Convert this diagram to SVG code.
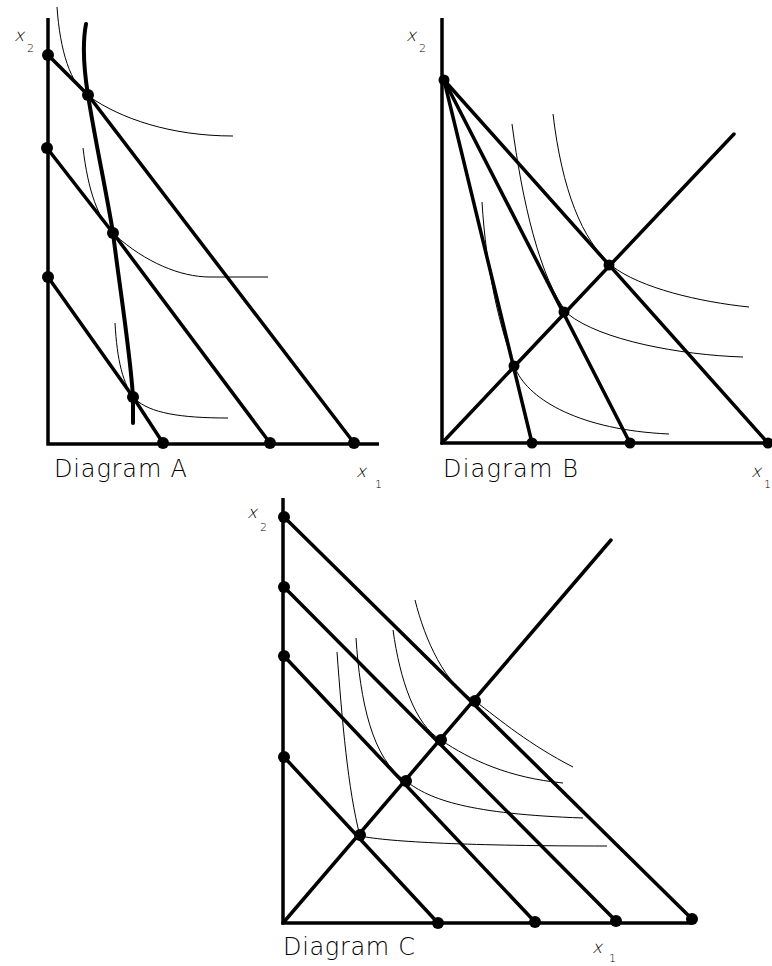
<svg xmlns="http://www.w3.org/2000/svg" width="772" height="966" viewBox="0 0 772 966">
<style>
.ax{stroke:#000;stroke-width:3.5;fill:none;stroke-linecap:butt}
.bl{stroke:#000;stroke-width:3.5;fill:none;stroke-linecap:round}
.ic{stroke:#000;stroke-width:1;fill:none}
.dot{fill:#000}
.ttl{font-family:"DejaVu Sans","Liberation Sans",sans-serif;font-weight:200;font-size:24px;fill:#000}
.var{font-family:"DejaVu Sans","Liberation Sans",sans-serif;font-weight:200;font-size:17px;fill:#000}
.sub{font-family:"DejaVu Sans","Liberation Sans",sans-serif;font-weight:200;font-size:11px;fill:#000}
</style>
<rect width="772" height="966" fill="#fff"/>

<g id="diagramA">
  <g id="A-axes">
    <path class="ax" d="M48,18 V444 H379"/>
  </g>
  <g id="A-connectors">
    <path class="bl" d="M48,55 L88,95 L354,443"/>
    <path class="bl" d="M47,148 L113,233 L270,443"/>
    <path class="bl" d="M48,277 L133,397 L163,443"/>
    <path class="bl" style="stroke-width:4" d="M86,24 C82,45 84,70 88,95 C95,140 106,190 113,233 C120,290 130,350 133,397 L133,423"/>
    <path class="ic" d="M57,7 C60,50 70,85 90,97 C120,118 170,136 233,136"/>
    <path class="ic" d="M83,148 C88,190 98,220 115,235 C145,262 180,277 210,277 L268,277"/>
    <path class="ic" d="M115,323 C117,360 123,385 135,399 C150,413 180,418 228,418"/>
  </g>
  <g id="A-points">
    <circle class="dot" cx="48" cy="55" r="6"/>
    <circle class="dot" cx="47" cy="148" r="6"/>
    <circle class="dot" cx="48" cy="277" r="6"/>
    <circle class="dot" cx="88" cy="95" r="6"/>
    <circle class="dot" cx="113" cy="233" r="6"/>
    <circle class="dot" cx="133" cy="397" r="6"/>
    <circle class="dot" cx="163" cy="443" r="6"/>
    <circle class="dot" cx="270" cy="443" r="6"/>
    <circle class="dot" cx="354" cy="443" r="6"/>
  </g>
  <g id="A-labels">
    <text class="var" transform="translate(14,41) skewX(-14)">x</text>
    <text class="sub" x="27" y="52">2</text>
    <text class="var" transform="translate(356,477) skewX(-14)">x</text>
    <text class="sub" x="375" y="488">1</text>
    <text class="ttl" x="54" y="477" textLength="133" lengthAdjust="spacing">Diagram A</text>
  </g>
</g>

<g id="diagramB">
  <g id="B-axes">
    <path class="ax" d="M442,18 V443 H772"/>
  </g>
  <g id="B-connectors">
    <path class="bl" d="M442,443 L734,134"/>
    <path class="bl" d="M444,80 L532,443"/>
    <path class="bl" d="M444,80 L630,443"/>
    <path class="bl" d="M444,80 L768,443"/>
    <path class="ic" d="M482,202 C486,270 500,330 516,370 C530,400 580,430 669,434"/>
    <path class="ic" d="M512,124 C522,200 540,280 568,314 C600,340 680,355 743,357"/>
    <path class="ic" d="M553,114 C562,190 582,240 612,266 C640,288 700,302 749,307"/>
  </g>
  <g id="B-points">
    <circle class="dot" cx="444" cy="80" r="5.5"/>
    <circle class="dot" cx="514" cy="366" r="5.5"/>
    <circle class="dot" cx="564" cy="312" r="5.5"/>
    <circle class="dot" cx="609" cy="265" r="5.5"/>
    <circle class="dot" cx="532" cy="443" r="5.5"/>
    <circle class="dot" cx="630" cy="443" r="5.5"/>
    <circle class="dot" cx="768" cy="443" r="5.5"/>
  </g>
  <g id="B-labels">
    <text class="var" transform="translate(406,41) skewX(-14)">x</text>
    <text class="sub" x="419" y="52">2</text>
    <text class="var" transform="translate(751,477) skewX(-14)">x</text>
    <text class="sub" x="764" y="488">1</text>
    <text class="ttl" x="443" y="477" textLength="135" lengthAdjust="spacing">Diagram B</text>
  </g>
</g>

<g id="diagramC">
  <g id="C-axes">
    <path class="ax" d="M283,498 V923 H692"/>
  </g>
  <g id="C-connectors">
    <path class="bl" d="M283,923 L611,540"/>
    <path class="bl" d="M284,517 L692,919"/>
    <path class="bl" d="M284,587 L616,921"/>
    <path class="bl" d="M284,656 L535,922"/>
    <path class="bl" d="M284,757 L438,923"/>
    <path class="ic" d="M415,600 C425,640 445,685 475,701 C500,720 530,745 573,767"/>
    <path class="ic" d="M393,630 C400,680 415,725 441,740 C470,760 510,778 563,783"/>
    <path class="ic" d="M356,638 C360,700 372,760 406,781 C430,800 470,814 583,818"/>
    <path class="ic" d="M337,652 C342,720 348,790 360,836 C390,842 470,846 607,846"/>
  </g>
  <g id="C-points">
    <circle class="dot" cx="284" cy="517" r="6"/>
    <circle class="dot" cx="284" cy="587" r="6"/>
    <circle class="dot" cx="284" cy="656" r="6"/>
    <circle class="dot" cx="284" cy="757" r="6"/>
    <circle class="dot" cx="475" cy="701" r="6"/>
    <circle class="dot" cx="441" cy="740" r="6"/>
    <circle class="dot" cx="406" cy="781" r="6"/>
    <circle class="dot" cx="360" cy="835" r="6"/>
    <circle class="dot" cx="438" cy="923" r="6"/>
    <circle class="dot" cx="535" cy="922" r="6"/>
    <circle class="dot" cx="616" cy="921" r="6"/>
    <circle class="dot" cx="692" cy="919" r="6"/>
  </g>
  <g id="C-labels">
    <text class="var" transform="translate(247,518) skewX(-14)">x</text>
    <text class="sub" x="260" y="531">2</text>
    <text class="var" transform="translate(592,953) skewX(-14)">x</text>
    <text class="sub" x="609" y="962">1</text>
    <text class="ttl" x="283" y="955" textLength="132" lengthAdjust="spacing">Diagram C</text>
  </g>
</g>
</svg>
